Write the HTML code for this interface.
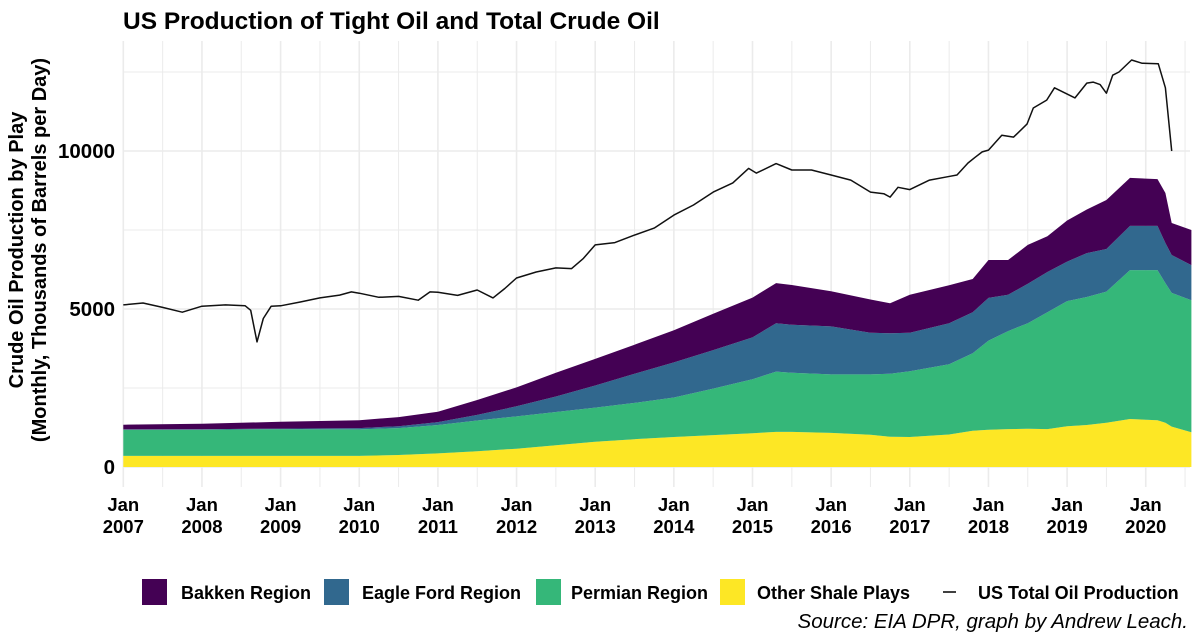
<!DOCTYPE html>
<html><head><meta charset="utf-8">
<style>
body{margin:0;background:#fff;}
svg{display:block;font-family:"Liberation Sans",Arial,sans-serif;}
</style></head>
<body>
<svg id="chart" width="1200" height="643" viewBox="0 0 1200 643" xmlns="http://www.w3.org/2000/svg">
<rect width="1200" height="643" fill="#fff"/>
<g id="grid"></g>
<g id="areas"></g>
<g id="lineg"></g>
<g id="axes"></g>
<text x="123" y="29" font-size="24.5" font-weight="bold" fill="#000">US Production of Tight Oil and Total Crude Oil</text>
<g transform="translate(29,250) rotate(-90)" font-size="20" font-weight="bold" text-anchor="middle">
<text x="0" y="-6">Crude Oil Production by Play</text>
<text x="0" y="17">(Monthly, Thousands of Barrels per Day)</text>
</g>
<g font-size="18" font-weight="bold">
<rect x="142" y="579" width="25" height="26" fill="#440154"/>
<text x="181" y="599">Bakken Region</text>
<rect x="324" y="579" width="25" height="26" fill="#31688e"/>
<text x="362" y="599">Eagle Ford Region</text>
<rect x="536" y="579" width="25" height="26" fill="#35b779"/>
<text x="571" y="599">Permian Region</text>
<rect x="720" y="579" width="25" height="26" fill="#fde725"/>
<text x="757" y="599">Other Shale Plays</text>
<line x1="943" y1="592" x2="956" y2="592" stroke="#000" stroke-width="1.5"/>
<text x="978" y="599">US Total Oil Production</text>
</g>
<text x="1188" y="628" font-size="20.5" font-style="italic" text-anchor="end">Source: EIA DPR, graph by Andrew Leach.</text>
</svg>
<script>
const dates = [2007.0,2008.0,2009.0,2010.0,2010.5,2011.0,2011.5,2012.0,2012.5,2013.0,2013.5,2014.0,2014.5,2015.0,2015.3,2015.5,2016.0,2016.5,2016.75,2017.0,2017.5,2017.8,2018.0,2018.25,2018.5,2018.75,2019.0,2019.25,2019.5,2019.8,2020.15,2020.25,2020.33,2020.58];
const other = [350,350,350,350,380,430,500,580,690,800,880,950,1010,1070,1110,1110,1080,1020,960,950,1030,1150,1180,1200,1210,1200,1290,1330,1400,1520,1480,1400,1280,1100];
const permian = [830,830,850,840,850,900,970,1020,1050,1080,1150,1250,1470,1710,1910,1870,1850,1910,1990,2080,2220,2450,2820,3100,3340,3700,3960,4050,4150,4710,4750,4420,4230,4180];
const eagleFord = [10,15,15,40,60,90,180,320,490,700,920,1110,1220,1320,1530,1520,1520,1320,1280,1220,1300,1300,1350,1150,1250,1270,1250,1390,1350,1400,1400,1270,1200,1110];
const bakken = [150,175,215,250,290,330,470,600,750,840,920,1020,1150,1260,1270,1260,1110,1050,950,1200,1200,1050,1200,1100,1230,1130,1300,1380,1550,1520,1480,1580,1010,1110];
const lineDates = [2007.0,2007.25,2007.5,2007.75,2008.0,2008.3,2008.55,2008.62,2008.7,2008.78,2008.88,2009.0,2009.25,2009.5,2009.75,2009.9,2010.0,2010.25,2010.5,2010.75,2010.9,2011.0,2011.25,2011.5,2011.7,2011.85,2012.0,2012.25,2012.5,2012.7,2012.85,2013.0,2013.25,2013.5,2013.75,2014.0,2014.25,2014.5,2014.75,2014.95,2015.05,2015.3,2015.5,2015.75,2016.0,2016.25,2016.5,2016.67,2016.75,2016.85,2017.0,2017.25,2017.51,2017.6,2017.74,2017.83,2017.92,2018.0,2018.17,2018.32,2018.49,2018.57,2018.74,2018.84,2019.1,2019.25,2019.33,2019.42,2019.5,2019.58,2019.66,2019.82,2019.95,2020.16,2020.25,2020.33];
const totalOil = [5130,5190,5050,4900,5090,5130,5100,4960,3960,4700,5090,5100,5220,5350,5440,5540,5500,5370,5400,5280,5540,5530,5430,5600,5350,5650,5980,6170,6300,6280,6600,7030,7100,7340,7560,7970,8290,8700,8990,9450,9300,9600,9400,9400,9240,9080,8700,8650,8540,8850,8780,9080,9200,9240,9620,9800,9970,10030,10500,10440,10850,11360,11610,12000,11680,12150,12180,12100,11830,12400,12500,12880,12780,12760,12000,10000];
const yTicks = [0,5000,10000];
const yMinor = [2500,7500,12500];
const xYears = [2007,2008,2009,2010,2011,2012,2013,2014,2015,2016,2017,2018,2019,2020];

const NS='http://www.w3.org/2000/svg';
const X0=123.3, XS=78.65, Y0=467, YS=0.0316;
function xs(t){return X0+(t-2007)*XS;}
function ys(v){return Y0-v*YS;}
function mk(tag,attrs,parent){const e=document.createElementNS(NS,tag);for(const k in attrs)e.setAttribute(k,attrs[k]);parent.appendChild(e);return e;}

const grid=document.getElementById('grid');
const L=123,R=1190,T=41,B=487;
yMinor.forEach(v=>{const l=mk('line',{x1:L,x2:R,y1:ys(v),y2:ys(v),stroke:'#ebebeb','stroke-width':1},grid);

});
yTicks.forEach(v=>{const l=mk('line',{x1:L,x2:R,y1:ys(v),y2:ys(v),stroke:'#ebebeb','stroke-width':1.6},grid);

});
xYears.forEach(yr=>{
 const l=mk('line',{x1:xs(yr),x2:xs(yr),y1:T,y2:B,stroke:'#ebebeb','stroke-width':1.6},grid);
 
 
 if(xs(yr+0.5)<R){const m=mk('line',{x1:xs(yr+0.5),x2:xs(yr+0.5),y1:T,y2:B,stroke:'#ebebeb','stroke-width':1},grid);
 
 }
});

const areas=document.getElementById('areas');
const series=[[other,'#fde725','area-other-shale'],[permian,'#35b779','area-permian'],[eagleFord,'#31688e','area-eagle-ford'],[bakken,'#440154','area-bakken']];
let base=dates.map(()=>0);
series.forEach(([vals,col,name])=>{
 const top=base.map((b,i)=>b+vals[i]);
 let d='M'+dates.map((t,i)=>xs(t).toFixed(1)+','+ys(top[i]).toFixed(1)).join('L');
 for(let i=dates.length-1;i>=0;i--)d+='L'+xs(dates[i]).toFixed(1)+','+ys(base[i]).toFixed(1);
 d+='Z';
 const p=mk('path',{d:d,fill:col},areas);
 
 
 base=top;
});

const lg=document.getElementById('lineg');
const lp=mk('path',{d:'M'+lineDates.map((t,i)=>xs(t).toFixed(1)+','+ys(totalOil[i]).toFixed(1)).join('L'),fill:'none',stroke:'#111','stroke-width':1.5,'stroke-linejoin':'round'},lg);



const ax=document.getElementById('axes');
yTicks.forEach(v=>{const t=mk('text',{x:115,y:ys(v)+7,'text-anchor':'end','font-size':20.5,'font-weight':'bold'},ax);t.textContent=v;

});
xYears.forEach(yr=>{
 const t=mk('text',{x:xs(yr),y:511,'text-anchor':'middle','font-size':18.5,'font-weight':'bold'},ax);
 
 
 const a=mk('tspan',{x:xs(yr),dy:0},t);a.textContent='Jan';
 const b=mk('tspan',{x:xs(yr),dy:22},t);b.textContent=yr;
});
</script>
</body></html>
